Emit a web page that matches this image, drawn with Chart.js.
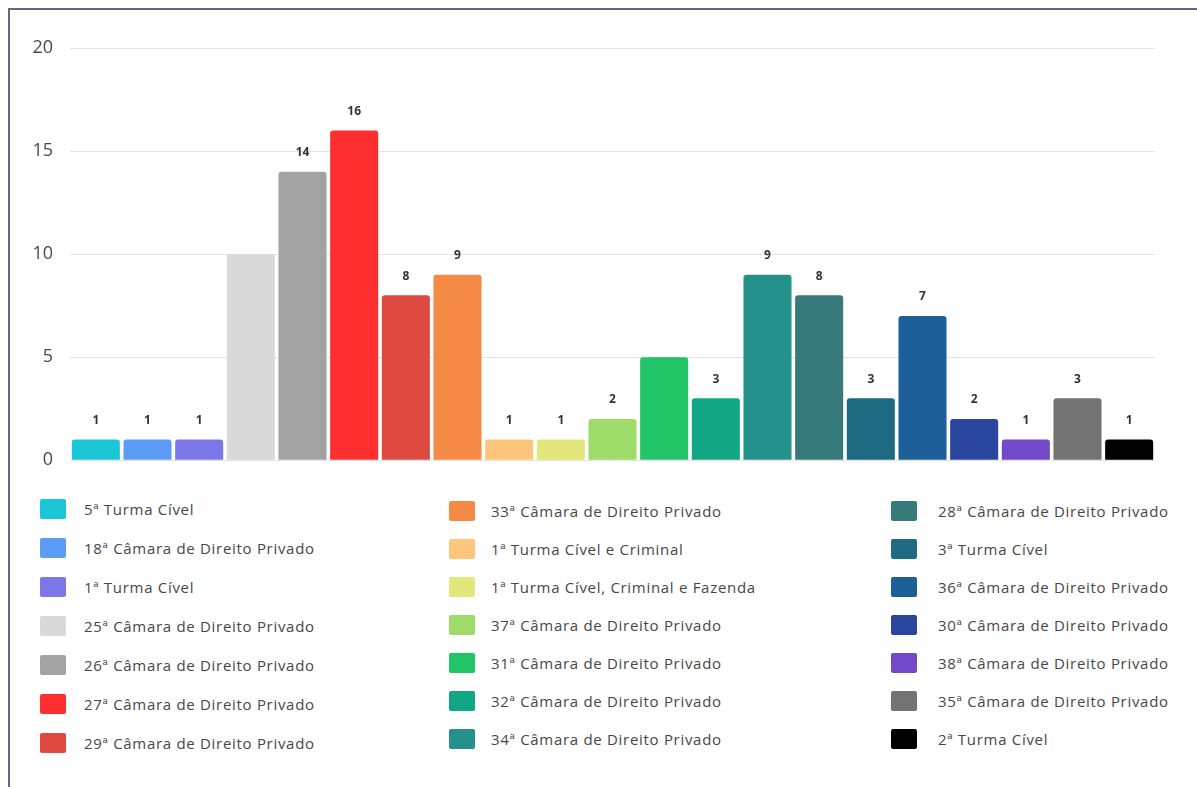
<!DOCTYPE html>
<html>
<head>
<meta charset="utf-8">
<script src="https://cdn.jsdelivr.net/npm/chart.js@4"></script>
<style>
  html, body { margin: 0; padding: 0; background: #fff; }
  body { width: 1197px; height: 787px; position: relative; overflow: hidden; font-family: "Open Sans", sans-serif; }
  .frame { position: absolute; left: 8px; top: 8px; width: 1300px; height: 900px; border-left: 2px solid #5f6a88; border-top: 2px solid #5f6a88; }
  .chart-box { position: absolute; left: 0; top: 0; width: 1197px; height: 488px; }
  .legend-col { position: absolute; }
  .legend-item { display: flex; align-items: center; color: #474747; font-size: 15px; letter-spacing: 0.7px; white-space: nowrap; }
  .legend-item .sw { width: 26px; height: 20px; border-radius: 2px; flex: none; }
</style>
</head>
<body>
<div class="frame"></div>
<div class="chart-box"><canvas id="chart-turmas"></canvas></div>
<div id="legend"></div>
<script>
const categories = [
  '5ª Turma Cível', '18ª Câmara de Direito Privado', '1ª Turma Cível',
  '25ª Câmara de Direito Privado', '26ª Câmara de Direito Privado', '27ª Câmara de Direito Privado',
  '29ª Câmara de Direito Privado', '33ª Câmara de Direito Privado', '1ª Turma Cível e Criminal',
  '1ª Turma Cível, Criminal e Fazenda', '37ª Câmara de Direito Privado', '31ª Câmara de Direito Privado',
  '32ª Câmara de Direito Privado', '34ª Câmara de Direito Privado', '28ª Câmara de Direito Privado',
  '3ª Turma Cível', '36ª Câmara de Direito Privado', '30ª Câmara de Direito Privado',
  '38ª Câmara de Direito Privado', '35ª Câmara de Direito Privado', '2ª Turma Cível'
];
const values = [1, 1, 1, 10, 14, 16, 8, 9, 1, 1, 2, 5, 3, 9, 8, 3, 7, 2, 1, 3, 1];
const barColors = [
  '#1bc6d8', '#5b9cf6', '#7b77e9', '#d9d9d9', '#a3a3a3', '#fe2f2f', '#de4a3f',
  '#f48a46', '#fdc67a', '#e1e77b', '#9edb68', '#21c466', '#12a784', '#24918a',
  '#367a79', '#1f6a83', '#1c5f99', '#2b469f', '#7249c8', '#737373', '#000000'
];
// the value is not written above these bars in the original
const hiddenLabels = [3, 11];
const yTicks = [0, 5, 10, 15, 20];

const valueLabels = {
  id: 'valueLabels',
  afterDatasetsDraw(chart) {
    const ctx = chart.ctx;
    const meta = chart.getDatasetMeta(0);
    ctx.save();
    ctx.font = 'bold 12px "Open Sans", sans-serif';
    ctx.fillStyle = '#333';
    ctx.textAlign = 'center';
    ctx.textBaseline = 'middle';
    meta.data.forEach((bar, i) => {
      if (hiddenLabels.includes(i)) return;
      ctx.fillText(values[i], bar.x, bar.y - 19);
    });
    ctx.restore();
  }
};

new Chart(document.getElementById('chart-turmas'), {
  type: 'bar',
  data: {
    labels: categories,
    datasets: [{
      data: values,
      backgroundColor: barColors,
      borderRadius: 3,
      borderSkipped: 'bottom',
      barPercentage: 0.93,
      categoryPercentage: 1
    }]
  },
  options: {
    responsive: true, maintainAspectRatio: false, animation: false,
    layout: { padding: { top: 48, right: 42, bottom: 12, left: 0 } },
    plugins: { legend: { display: false }, tooltip: { enabled: false } },
    scales: {
      x: { display: false },
      y: {
        min: 0, max: 20,
        afterBuildTicks: s => { s.ticks = yTicks.map(v => ({ value: v })); },
        afterFit: s => { s.width = 70; },
        border: { display: false },
        grid: { color: '#e3e3e3', drawTicks: false },
        ticks: { color: '#4a4a4a', padding: 17, font: { family: 'Open Sans', size: 18 } }
      }
    }
  },
  plugins: [valueLabels]
});

// legend in three columns of seven, filled top to bottom
const legendCols = [
  { left: 40, top: 489, rowH: 39, gap: 18 },
  { left: 449, top: 492, rowH: 38, gap: 16 },
  { left: 891, top: 492, rowH: 38, gap: 21 }
];
const legendEl = document.getElementById('legend');
legendCols.forEach((col, c) => {
  const div = document.createElement('div');
  div.className = 'legend-col';
  div.style.left = col.left + 'px';
  div.style.top = col.top + 'px';
  for (let r = 0; r < 7; r++) {
    const i = c * 7 + r;
    const item = document.createElement('div');
    item.className = 'legend-item';
    item.style.height = col.rowH + 'px';
    item.innerHTML = '<span class="sw" style="background:' + barColors[i] + ';margin-right:' + col.gap + 'px"></span>' + categories[i];
    div.appendChild(item);
  }
  legendEl.appendChild(div);
});
</script>
</body>
</html>
